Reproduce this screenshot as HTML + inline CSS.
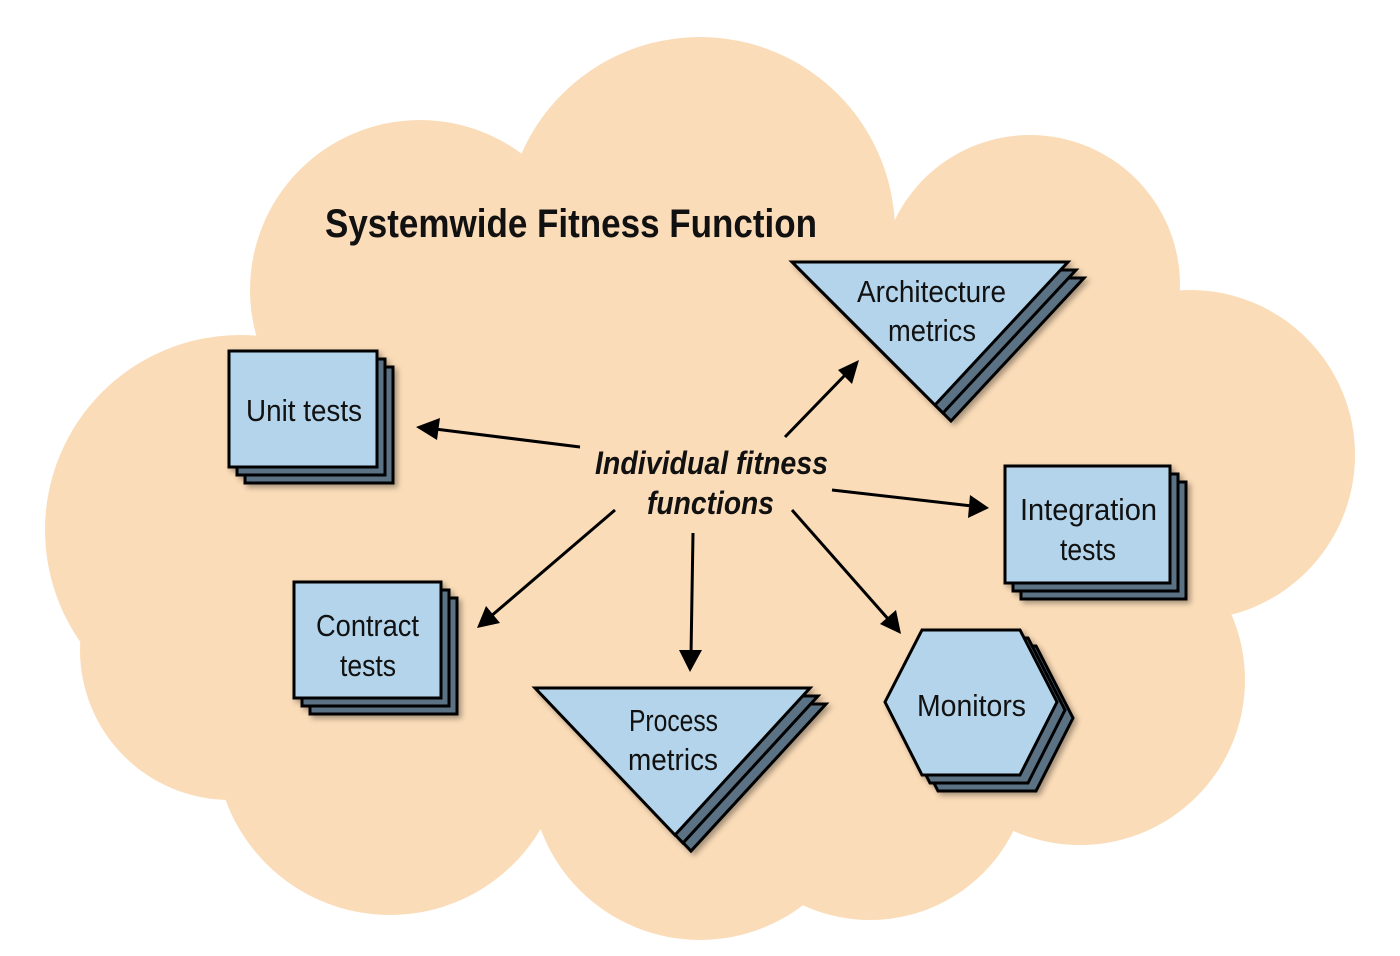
<!DOCTYPE html>
<html><head><meta charset="utf-8"><style>
html,body{margin:0;padding:0;background:#fff;}
svg{display:block}
text{font-family:"Liberation Sans",sans-serif;fill:#111;}
</style></head><body>
<svg width="1400" height="956" viewBox="0 0 1400 956" xmlns="http://www.w3.org/2000/svg">
<defs>
<filter id="sh" x="-20%" y="-20%" width="150%" height="150%"><feDropShadow dx="3" dy="3" stdDeviation="3" flood-opacity="0.35"/></filter>
</defs>
<g fill="#fbdcb8">
<circle cx="240" cy="530" r="195"/>
<circle cx="420" cy="290" r="170"/>
<circle cx="700" cy="232" r="195"/>
<circle cx="1030" cy="285" r="150"/>
<circle cx="1190" cy="455" r="165"/>
<circle cx="1080" cy="680" r="165"/>
<circle cx="700" cy="770" r="170"/>
<circle cx="390" cy="740" r="175"/>
<circle cx="870" cy="760" r="160"/>
<circle cx="230" cy="650" r="150"/>
<rect x="260" y="300" width="920" height="490"/>
</g>
<text x="325" y="237" font-size="40" font-weight="bold" textLength="492" lengthAdjust="spacingAndGlyphs">Systemwide Fitness Function</text>

<g stroke="#000" stroke-width="3" stroke-linejoin="miter" filter="url(#sh)">
<rect x="245" y="367" width="148" height="116" fill="#5a7284"/>
<rect x="237" y="359" width="148" height="116" fill="#5a7284"/>
<rect x="229" y="351" width="148" height="116" fill="#b3d4ea"/>
<rect x="310" y="598" width="147" height="116" fill="#5a7284"/>
<rect x="302" y="590" width="147" height="116" fill="#5a7284"/>
<rect x="294" y="582" width="147" height="116" fill="#b3d4ea"/>
<rect x="1021" y="482" width="165" height="117" fill="#5a7284"/>
<rect x="1013" y="474" width="165" height="117" fill="#5a7284"/>
<rect x="1005" y="466" width="165" height="117" fill="#b3d4ea"/>
<polygon points="808,278 1084,278 951,421" fill="#5a7284"/>
<polygon points="800,270 1076,270 943,413" fill="#5a7284"/>
<polygon points="792,262 1068,262 935,405" fill="#b3d4ea"/>
<polygon points="551,704 826,704 691,851" fill="#5a7284"/>
<polygon points="543,696 818,696 683,843" fill="#5a7284"/>
<polygon points="535,688 810,688 675,835" fill="#b3d4ea"/>
<polygon points="901,718 938,646 1036,646 1073,718 1036,791 938,791" fill="#5a7284"/>
<polygon points="893,710 930,638 1028,638 1065,710 1028,783 930,783" fill="#5a7284"/>
<polygon points="885,702 922,630 1020,630 1057,702 1020,775 922,775" fill="#b3d4ea"/>
</g>

<g font-size="31">
<text x="246" y="421" textLength="116" lengthAdjust="spacingAndGlyphs">Unit tests</text>
<text x="857" y="302" textLength="149" lengthAdjust="spacingAndGlyphs">Architecture</text>
<text x="888" y="341" textLength="88" lengthAdjust="spacingAndGlyphs">metrics</text>
<text x="1020" y="520" textLength="137" lengthAdjust="spacingAndGlyphs">Integration</text>
<text x="1060" y="560" textLength="56" lengthAdjust="spacingAndGlyphs">tests</text>
<text x="316" y="636" textLength="103" lengthAdjust="spacingAndGlyphs">Contract</text>
<text x="340" y="676" textLength="56" lengthAdjust="spacingAndGlyphs">tests</text>
<text x="629" y="731" textLength="89" lengthAdjust="spacingAndGlyphs">Process</text>
<text x="628" y="770" textLength="90" lengthAdjust="spacingAndGlyphs">metrics</text>
<text x="917" y="716" textLength="109" lengthAdjust="spacingAndGlyphs">Monitors</text>
</g>
<g font-size="32" font-weight="bold" font-style="italic">
<text x="595" y="474" textLength="233" lengthAdjust="spacingAndGlyphs">Individual fitness</text>
<text x="647" y="514" textLength="127" lengthAdjust="spacingAndGlyphs">functions</text>
</g>

<g stroke="#000" stroke-width="3">
<line x1="580" y1="447" x2="435" y2="429"/>
<line x1="785" y1="437" x2="847" y2="373"/>
<line x1="832" y1="490" x2="972" y2="506"/>
<line x1="792" y1="510" x2="889" y2="620"/>
<line x1="693" y1="533" x2="691" y2="655"/>
<line x1="615" y1="510" x2="490" y2="617"/>
</g>
<g fill="#000">
<polygon points="416,427 440,418 437,440"/>
<polygon points="859,360 852,384 838,370"/>
<polygon points="989,508 968,518 970,495"/>
<polygon points="901,634 880,624 896,610"/>
<polygon points="690,672 679,650 702,650"/>
<polygon points="477,628 486,606 500,623"/>
</g>
</svg>
</body></html>
